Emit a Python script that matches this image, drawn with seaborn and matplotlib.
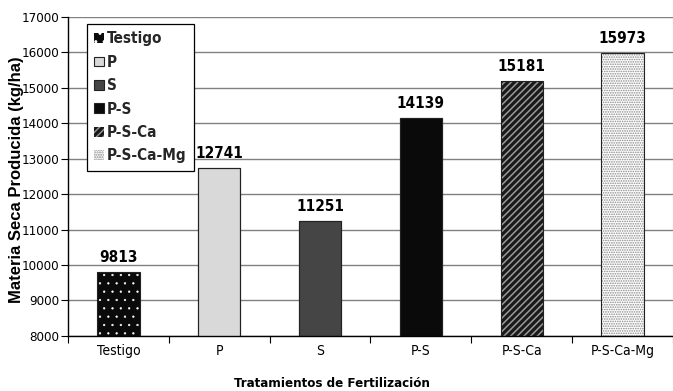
import matplotlib
matplotlib.use("Agg")
import matplotlib.pyplot as plt
import seaborn as sns
import pandas as pd
from matplotlib.patches import Rectangle, Patch
from matplotlib.ticker import FixedLocator

tratamientos = ["Testigo", "P", "S", "P-S", "P-S-Ca", "P-S-Ca-Mg"]
materia_seca = [9813, 12741, 11251, 14139, 15181, 15973]

sns.set_theme(style="white")
plt.rcParams["font.family"] = ["DejaVu Sans"]
plt.rcParams["font.stretch"] = "condensed"
plt.rcParams["hatch.linewidth"] = 1.0

# fill, hatch colour, hatch pattern, hatch line width
estilos = [
    ("#0a0a0a", "white", "..", 0.4),
    ("#d9d9d9", None, "", 1.0),
    ("#454545", None, "", 1.0),
    ("#0a0a0a", None, "", 1.0),
    ("#1a1a1a", "#9a9a9a", "/////", 1.1),
    ("#ffffff", "#8a8a8a", ".......", 0.8),
]


def set_hatch_width(p, w):
    if hasattr(p, "set_hatch_linewidth"):
        p.set_hatch_linewidth(w)


df = pd.DataFrame({"Tratamiento": tratamientos, "Materia": materia_seca})

fig = plt.figure(figsize=(6.73, 3.91), dpi=100)
ax = fig.add_axes([0.101, 0.141, 0.899, 0.816])

sns.barplot(data=df, x="Tratamiento", y="Materia", hue="Tratamiento",
            palette=[e[0] for e in estilos], width=0.42, legend=False,
            saturation=1, ax=ax, zorder=2)

ax.set_ylim(8000, 17000)
ax.set_xlim(-0.5, len(tratamientos) - 0.5)

bars = list(ax.patches)
handles = []
for bar, (fc, hc, hatch, hw), val in zip(bars, estilos, materia_seca):
    bar.set_facecolor(fc)
    if hatch:
        bar.set_hatch(hatch)
        bar.set_edgecolor(hc)
        bar.set_linewidth(0)
        set_hatch_width(bar, hw)
    else:
        bar.set_edgecolor("#222222")
        bar.set_linewidth(0.8)
    # dark outline drawn over the hatched fill
    ax.add_patch(Rectangle((bar.get_x(), bar.get_y()), bar.get_width(), bar.get_height(),
                           fill=False, edgecolor="#222222", linewidth=0.8, zorder=3))
    ax.text(bar.get_x() + bar.get_width() / 2, val + 200, f"{val}",
            ha="center", va="bottom", fontsize=11, fontweight="bold", color="black")
    h = Patch(facecolor=fc, edgecolor=hc if hatch else "#222222", hatch=hatch,
              linewidth=0 if hatch else 0.8)
    set_hatch_width(h, hw)
    handles.append(h)

ax.yaxis.grid(True, color="#808080", linewidth=1.0, zorder=0)
ax.set_axisbelow(True)
ax.set_yticks(range(8000, 17001, 1000))

# category boundary ticks on the x axis
ax.xaxis.set_minor_locator(FixedLocator([i + 0.5 for i in range(-1, len(tratamientos))]))
ax.tick_params(axis="x", which="major", length=0, labelsize=10, pad=6, colors="black")
ax.tick_params(axis="x", which="minor", length=5, width=0.8, direction="out", color="black", bottom=True)
ax.tick_params(axis="y", which="major", length=5, width=0.8, direction="out", color="black",
               labelsize=9.5, left=True, pad=1, colors="black")

for s in ["top", "right"]:
    ax.spines[s].set_visible(False)
for s in ["left", "bottom"]:
    ax.spines[s].set_color("black")
    ax.spines[s].set_linewidth(1.0)

ax.set_xlabel("Tratamientos de Fertilización", fontsize=9.5, fontweight="bold",
              color="black")
ax.set_ylabel("Materia Seca Producida (kg/ha)", fontsize=12, fontweight="bold",
              color="black", family=["Liberation Sans", "DejaVu Sans"], fontstretch="normal")
ax.xaxis.set_label_coords(0.436, -0.13)
ax.yaxis.set_label_coords(-0.072, 0.49)

leg = ax.legend(handles, tratamientos, loc="upper left", bbox_to_anchor=(0.031, 0.978),
                borderaxespad=0, frameon=True, fancybox=False, framealpha=1, edgecolor="black",
                prop={"weight": "bold", "size": 11},
                handlelength=0.6, handleheight=0.6, handletextpad=0.2,
                labelspacing=0.55, borderpad=0.5)
leg.get_frame().set_linewidth(0.9)
leg.set_zorder(5)

fig.savefig("out.png", dpi=100)
